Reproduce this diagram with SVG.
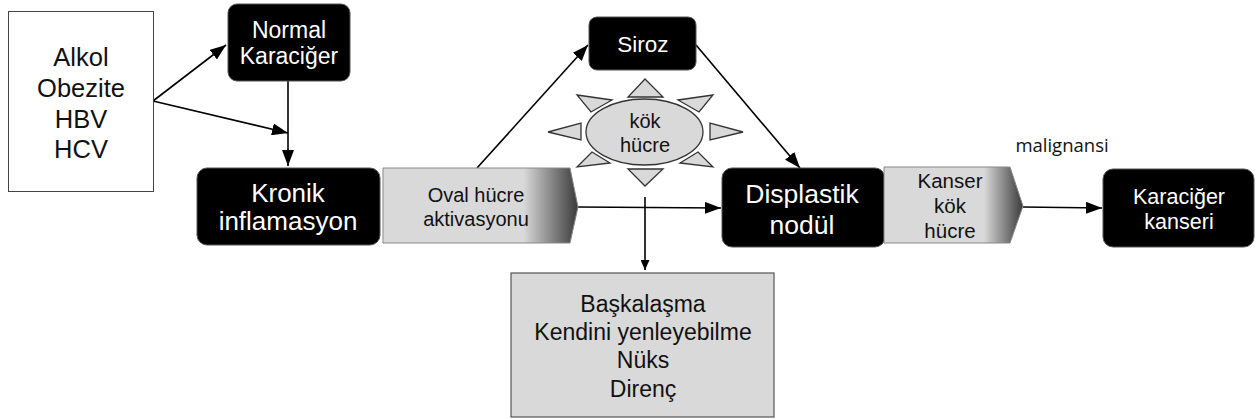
<svg xmlns="http://www.w3.org/2000/svg" width="1255" height="419" viewBox="0 0 1255 419">
<defs>
<linearGradient id="g" x1="0" y1="0" x2="1" y2="0">
<stop offset="0" stop-color="#d9d9d9"/>
<stop offset="0.72" stop-color="#d9d9d9"/>
<stop offset="1" stop-color="#3a3a3a"/>
</linearGradient>
<marker id="ah" markerWidth="16" markerHeight="12" refX="16" refY="6" orient="auto" markerUnits="userSpaceOnUse">
<path d="M0,0 L16,6 L0,12 Z" fill="#000"/>
</marker>
<marker id="ahs" markerWidth="10" markerHeight="9" refX="10" refY="4.5" orient="auto" markerUnits="userSpaceOnUse">
<path d="M0,0 L10,4.5 L0,9 Z" fill="#000"/>
</marker>
</defs>
<style>
text{font-family:"Liberation Sans",Arial,sans-serif;text-anchor:middle}
.blk{fill:#000;stroke:#555;stroke-width:1}
.w{fill:#fff}
.k{fill:#111}
.ln{stroke:#000;stroke-width:1.6;fill:none}
.tri{fill:#d9d9d9;stroke:#333;stroke-width:1.3}
</style>
<g id="connectors">
<line class="ln" x1="153" y1="101" x2="226" y2="45" marker-end="url(#ah)"/>
<line class="ln" x1="153" y1="101" x2="288" y2="133" marker-end="url(#ah)"/>
<line class="ln" x1="288" y1="81" x2="288" y2="166" marker-end="url(#ah)"/>
<line class="ln" x1="477" y1="168" x2="588" y2="45" marker-end="url(#ah)"/>
<line class="ln" x1="696" y1="45" x2="800" y2="168" marker-end="url(#ah)"/>
<line class="ln" x1="578" y1="207" x2="721" y2="208" marker-end="url(#ah)"/>
<line class="ln" x1="645" y1="197" x2="645" y2="270" stroke-width="1.2" marker-end="url(#ahs)"/>
<line class="ln" x1="1023" y1="207" x2="1102" y2="208" marker-end="url(#ah)"/>
</g>
<g id="risk">
<rect x="8.5" y="11.5" width="145" height="180" fill="#fff" stroke="#444" stroke-width="1"/>
<text class="k" x="81" y="66" font-size="25.5">Alkol</text>
<text class="k" x="81" y="97" font-size="25.5">Obezite</text>
<text class="k" x="81" y="128" font-size="25.5">HBV</text>
<text class="k" x="81" y="158" font-size="25.5">HCV</text>
</g>
<g id="normal">
<rect class="blk" x="228" y="4" width="122" height="77" rx="9"/>
<text class="w" x="289" y="38" font-size="23">Normal</text>
<text class="w" x="289" y="64" font-size="23">Karaciğer</text>
</g>
<g id="kronik">
<rect class="blk" x="197" y="168" width="183" height="77" rx="10"/>
<text class="w" x="288" y="202" font-size="26">Kronik</text>
<text class="w" x="288" y="230" font-size="26">inflamasyon</text>
</g>
<g id="oval">
<path d="M383,168 L570,168 L578,207 L570,243 L383,243 Z" fill="url(#g)" stroke="#888" stroke-width="1"/>
<text class="k" x="476" y="202" font-size="20">Oval hücre</text>
<text class="k" x="476" y="226" font-size="20">aktivasyonu</text>
</g>
<g id="siroz">
<rect class="blk" x="589" y="17" width="107" height="53" rx="8"/>
<text class="w" x="643" y="52" font-size="22.5">Siroz</text>
</g>
<g id="kokhucre">
<polygon class="tri" points="645,79 628,97 663,97"/>
<polygon class="tri" points="628,169 663,169 645,186"/>
<polygon class="tri" points="548,132 581,123 581,140"/>
<polygon class="tri" points="743,132 710,123 710,140"/>
<polygon class="tri" points="577,95 612,100 591,112"/>
<polygon class="tri" points="713,95 678,100 699,112"/>
<polygon class="tri" points="577,167 592,152 610,163"/>
<polygon class="tri" points="713,167 698,152 680,163"/>
<ellipse cx="644.5" cy="132" rx="58.5" ry="33" fill="#d9d9d9" stroke="#333" stroke-width="1.3"/>
<text class="k" x="645" y="128" font-size="20">kök</text>
<text class="k" x="645" y="152" font-size="20">hücre</text>
</g>
<g id="ozellikler">
<rect x="511" y="273" width="263" height="144" fill="#d9d9d9" stroke="#555" stroke-width="1.2"/>
<text class="k" x="643" y="312" font-size="23">Başkalaşma</text>
<text class="k" x="643" y="340" font-size="23">Kendini yenleyebilme</text>
<text class="k" x="643" y="368" font-size="23">Nüks</text>
<text class="k" x="643" y="397" font-size="23">Direnç</text>
</g>
<g id="displastik">
<rect class="blk" x="722" y="168" width="163" height="79" rx="10"/>
<text class="w" x="802" y="203" font-size="26.5">Displastik</text>
<text class="w" x="802" y="234" font-size="26.5">nodül</text>
</g>
<g id="kanser">
<path d="M884,167 L1010,167 L1023,206 L1010,243 L884,243 Z" fill="url(#g)" stroke="#888" stroke-width="1"/>
<text class="k" x="950" y="188" font-size="20.5">Kanser</text>
<text class="k" x="950" y="213" font-size="20.5">kök</text>
<text class="k" x="950" y="238" font-size="20.5">hücre</text>
</g>
<text class="k" x="1062" y="152" font-size="18.5" style="font-family:'Open Sans','Liberation Sans',sans-serif">malignansi</text>
<g id="karacigerkanseri">
<rect class="blk" x="1103" y="169" width="151" height="78" rx="10"/>
<text class="w" x="1179" y="204" font-size="21.5">Karaciğer</text>
<text class="w" x="1179" y="229" font-size="21.5">kanseri</text>
</g>
</svg>
